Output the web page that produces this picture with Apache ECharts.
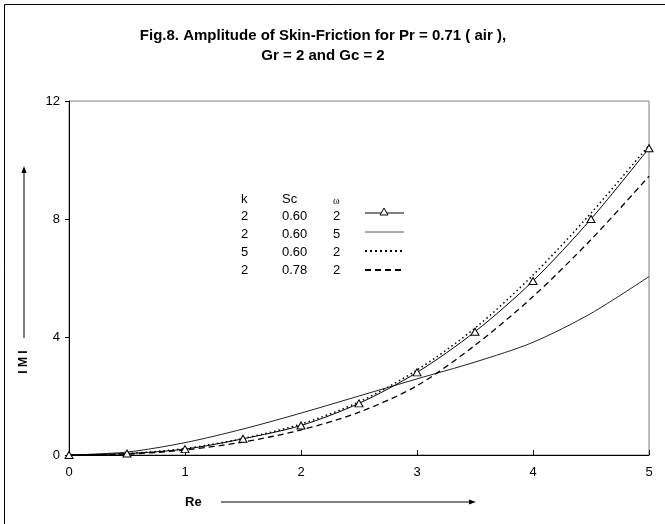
<!DOCTYPE html>
<html>
<head>
<meta charset="utf-8">
<script src="https://cdn.jsdelivr.net/npm/echarts@6/dist/echarts.min.js"></script>
<style>html,body{margin:0;padding:0;background:#fff}#c{width:665px;height:524px}</style>
</head>
<body>
<div id="c"></div>
<script>
const reValues = [0, 0.5, 1, 1.5, 2, 2.5, 3, 3.5, 4, 4.5, 5];
const m_k2_sc060_w2 = [0, 0.05, 0.2, 0.55, 1.0, 1.75, 2.8, 4.18, 5.9, 8.0, 10.4];
const m_k2_sc060_w5 = [0, 0.1, 0.42, 0.88, 1.42, 2.0, 2.58, 3.15, 3.82, 4.8, 6.05];
const m_k5_sc060_w2 = [0, 0.05, 0.22, 0.56, 1.05, 1.8, 2.88, 4.3, 6.1, 8.2, 10.5];
const m_k2_sc078_w2 = [0, 0.03, 0.17, 0.44, 0.85, 1.45, 2.35, 3.72, 5.37, 7.3, 9.45];
const yTicks = [0, 4, 8, 12];
const xTicks = [0, 1, 2, 3, 4, 5];
const legendK = ['2', '2', '5', '2'];
const legendSc = ['0.60', '0.60', '0.60', '0.78'];
const legendW = ['2', '5', '2', '2'];

const pair = arr => reValues.map((x, i) => [x, arr[i]]);
const FONT = 'Liberation Sans, Arial, sans-serif';

const chart = echarts.init(document.getElementById('c'), null, {renderer: 'canvas'});

const rowsY = [216, 234, 252, 270];
const lineY = [213, 232, 251, 270];
const g = [];
// outer border (left and top visible)
g.push({type: 'rect', shape: {x: 4.5, y: 4.5, width: 800, height: 800}, style: {fill: 'none', stroke: '#000', lineWidth: 1}, silent: true});
// legend table header
g.push({type: 'text', x: 241, y: 199, style: {text: 'k', font: '13px ' + FONT, fill: '#000', verticalAlign: 'middle'}});
g.push({type: 'text', x: 282, y: 199, style: {text: 'Sc', font: '13px ' + FONT, fill: '#000', verticalAlign: 'middle'}});
g.push({type: 'text', x: 333, y: 201, style: {text: 'ω', font: '10px serif', fill: '#000', verticalAlign: 'middle'}});
for (let i = 0; i < 4; i++) {
  g.push({type: 'text', x: 241, y: rowsY[i], style: {text: legendK[i], font: '13px ' + FONT, fill: '#000', verticalAlign: 'middle'}});
  g.push({type: 'text', x: 282, y: rowsY[i], style: {text: legendSc[i], font: '13px ' + FONT, fill: '#000', verticalAlign: 'middle'}});
  g.push({type: 'text', x: 333, y: rowsY[i], style: {text: legendW[i], font: '13px ' + FONT, fill: '#000', verticalAlign: 'middle'}});
}
g.push({type: 'line', shape: {x1: 365, y1: lineY[0], x2: 404, y2: lineY[0]}, style: {stroke: '#000', lineWidth: 1}});
g.push({type: 'polygon', shape: {points: [[384, lineY[0] - 5], [388, lineY[0] + 2], [380, lineY[0] + 2]]}, style: {fill: '#fff', stroke: '#000', lineWidth: 1}});
g.push({type: 'line', shape: {x1: 365, y1: lineY[1], x2: 404, y2: lineY[1]}, style: {stroke: '#555', lineWidth: 1}});
g.push({type: 'line', shape: {x1: 365, y1: lineY[2], x2: 404, y2: lineY[2]}, style: {stroke: '#000', lineWidth: 2, lineDash: [2, 3]}});
g.push({type: 'line', shape: {x1: 365, y1: lineY[3], x2: 404, y2: lineY[3]}, style: {stroke: '#000', lineWidth: 2, lineDash: [6, 4]}});
// axis name arrows
g.push({type: 'line', shape: {x1: 24, y1: 338, x2: 24, y2: 172}, style: {stroke: '#000', lineWidth: 1}});
g.push({type: 'polygon', shape: {points: [[24, 166], [26.5, 173], [21.5, 173]]}, style: {fill: '#000'}});
g.push({type: 'text', x: 24, y: 362, rotation: Math.PI / 2, style: {text: 'I M I', font: 'bold 12px ' + FONT, fill: '#000', align: 'center', verticalAlign: 'middle'}});
g.push({type: 'text', x: 185, y: 502, style: {text: 'Re', font: 'bold 13px ' + FONT, fill: '#000', verticalAlign: 'middle'}});
g.push({type: 'line', shape: {x1: 221, y1: 502, x2: 470, y2: 502}, style: {stroke: '#000', lineWidth: 1}});
g.push({type: 'polygon', shape: {points: [[476, 502], [469, 499.5], [469, 504.5]]}, style: {fill: '#000'}});

const option = {
  backgroundColor: '#fff',
  animation: false,
  title: {
    text: 'Fig.8. Amplitude of Skin-Friction for Pr = 0.71 ( air ),\nGr = 2 and Gc = 2',
    left: 318, top: 21, textAlign: 'center',
    textStyle: {fontFamily: FONT, fontWeight: 'bold', fontSize: 15, lineHeight: 20, color: '#000'}
  },
  grid: {left: 69, right: 16, top: 101, bottom: 69, show: true, borderColor: '#808080', borderWidth: 1, backgroundColor: 'transparent'},
  xAxis: {
    type: 'value', min: 0, max: 5, interval: 1,
    axisLine: {show: true, onZero: false, lineStyle: {color: '#000', width: 1}},
    axisTick: {show: true, inside: true, length: 5, lineStyle: {color: '#000'}},
    axisLabel: {color: '#000', fontFamily: FONT, fontSize: 13, margin: 11, formatter: v => xTicks.includes(v) ? String(v) : ''},
    splitLine: {show: false}
  },
  yAxis: {
    type: 'value', min: 0, max: 12, interval: 4,
    axisLine: {show: true, onZero: false, lineStyle: {color: '#000', width: 1}},
    axisTick: {show: true, length: 4, lineStyle: {color: '#000'}},
    axisLabel: {color: '#000', fontFamily: FONT, fontSize: 13, margin: 9, formatter: v => yTicks.includes(v) ? String(v) : ''},
    splitLine: {show: false}
  },
  series: [
    {type: 'line', name: 'k=2 Sc=0.60 w=2', data: pair(m_k2_sc060_w2), smooth: 0.3,
     symbol: 'triangle', symbolSize: [8, 7], showSymbol: true,
     itemStyle: {color: '#fff', borderColor: '#000', borderWidth: 1},
     lineStyle: {color: '#000', width: 1}, z: 5},
    {type: 'line', name: 'k=2 Sc=0.60 w=5', data: pair(m_k2_sc060_w5), smooth: 0.3, showSymbol: false,
     lineStyle: {color: '#222', width: 1}},
    {type: 'line', name: 'k=5 Sc=0.60 w=2', data: pair(m_k5_sc060_w2), smooth: 0.3, showSymbol: false,
     lineStyle: {color: '#000', width: 1.5, type: [1.5, 3]}},
    {type: 'line', name: 'k=2 Sc=0.78 w=2', data: pair(m_k2_sc078_w2), smooth: 0.3, showSymbol: false,
     lineStyle: {color: '#000', width: 1.3, type: [6, 4]}}
  ],
  graphic: g
};
chart.setOption(option);
</script>
</body>
</html>
